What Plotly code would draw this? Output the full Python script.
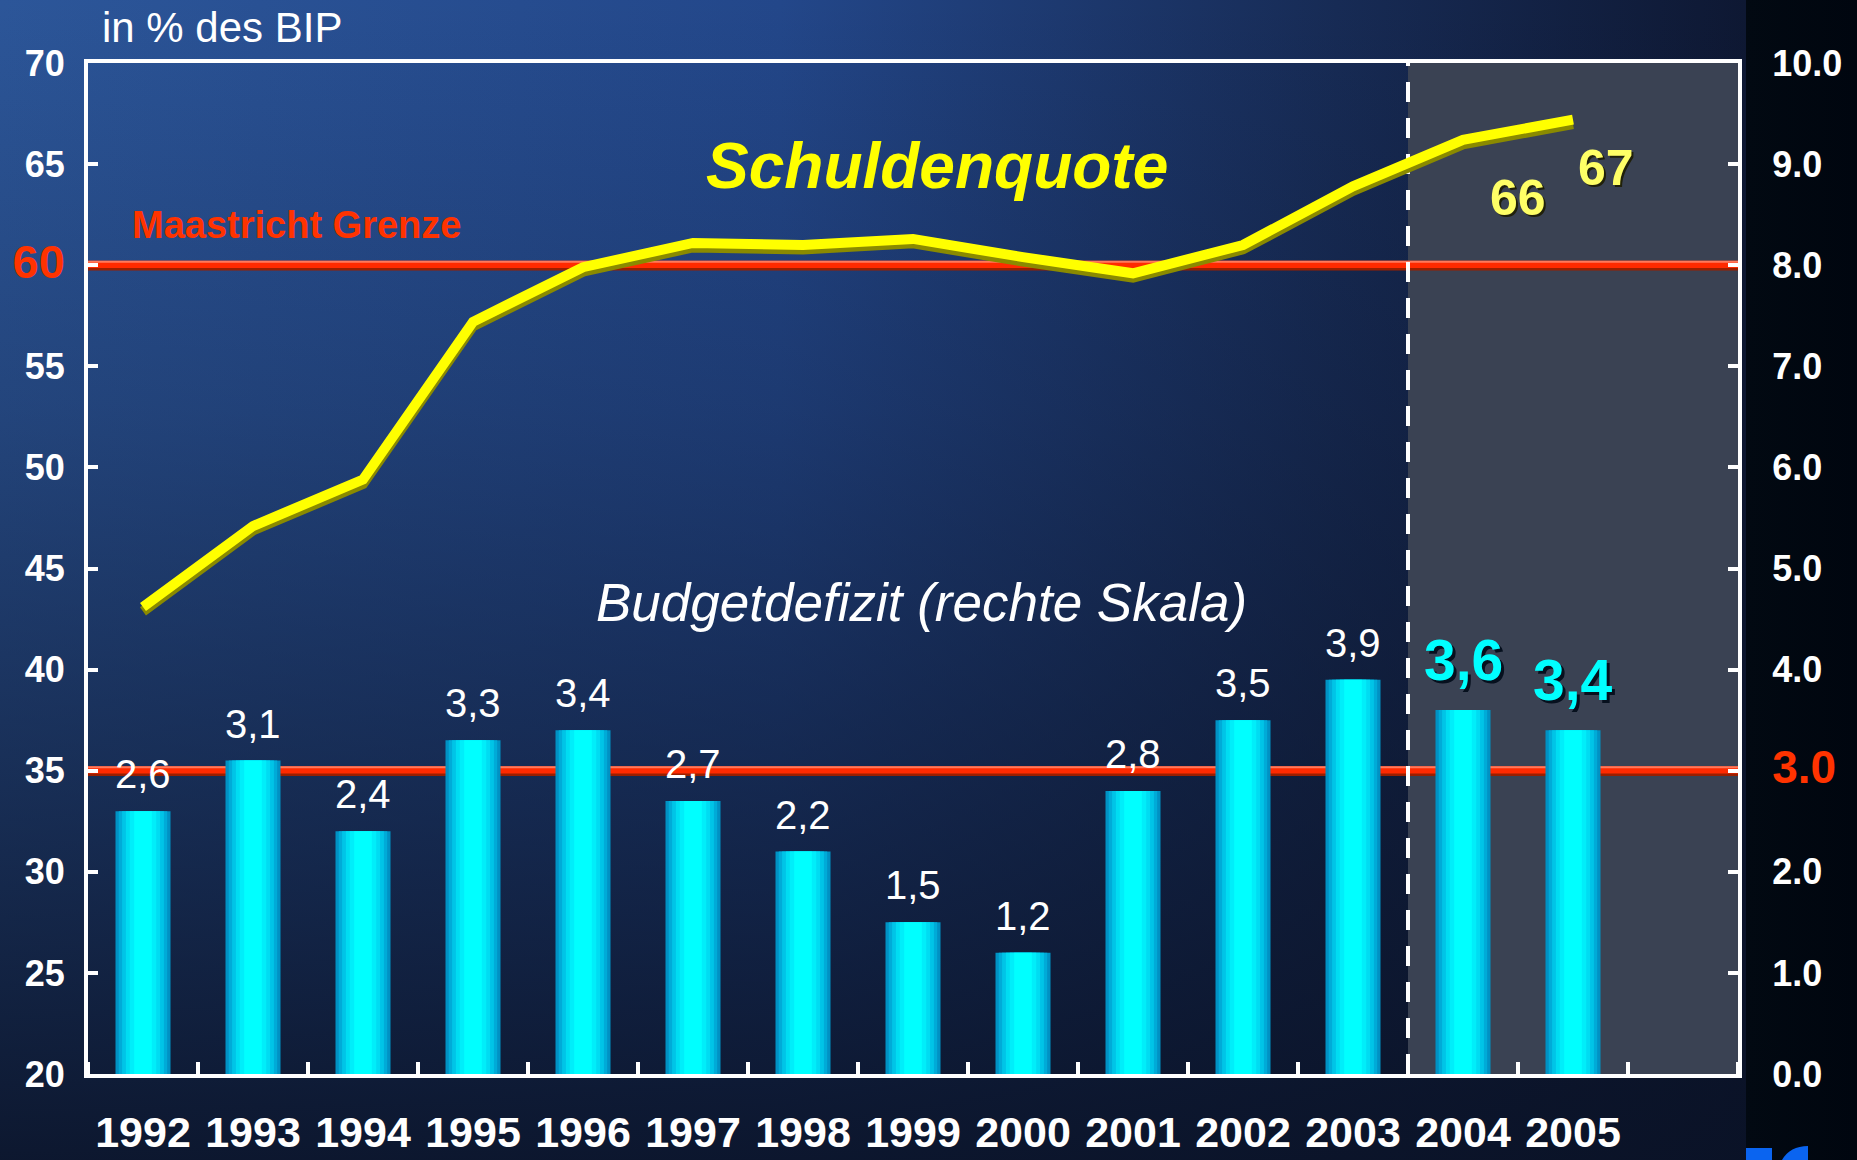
import base64
import plotly.graph_objects as go

# ---------------- data ----------------
years = [1992, 1993, 1994, 1995, 1996, 1997, 1998, 1999, 2000, 2001, 2002, 2003, 2004, 2005]
schuldenquote = [43.1, 47.1, 49.4, 57.2, 59.9, 61.1, 61.0, 61.3, 60.4, 59.6, 61.0, 63.9, 66.2, 67.2]
budgetdefizit = [2.6, 3.1, 2.4, 3.3, 3.4, 2.7, 2.2, 1.5, 1.2, 2.8, 3.5, 3.9, 3.6, 3.4]
forecast_years = [2004, 2005]
left_ticks = [20, 25, 30, 35, 40, 45, 50, 55, 60, 65, 70]
right_ticks = [0, 1, 2, 3, 4, 5, 6, 7, 8, 9, 10]
maastricht_debt = 60
maastricht_deficit = 3.0

FONT = 'Arial, "Liberation Sans", sans-serif'
W, H = 1857, 1160
ML, MR, MT, MB = 88, 119, 63, 86
PW, PH = W - ML - MR, H - MT - MB

# ---------------- background (gradient image) ----------------
svg = f"""<svg xmlns='http://www.w3.org/2000/svg' width='{W}' height='{H}' viewBox='0 0 {W} {H}' preserveAspectRatio='none'>
<defs>
<linearGradient id='h' x1='0' y1='0' x2='1' y2='0'>
<stop offset='0' stop-color='#2c5699'/>
<stop offset='0.42' stop-color='#23478a'/>
<stop offset='0.72' stop-color='#172b55'/>
<stop offset='0.94' stop-color='#0e1833'/>
<stop offset='0.94' stop-color='#020912'/>
<stop offset='1' stop-color='#00060f'/>
</linearGradient>
<linearGradient id='v' x1='0' y1='0' x2='0' y2='1'>
<stop offset='0' stop-color='#0a1226' stop-opacity='0'/>
<stop offset='0.35' stop-color='#0a1226' stop-opacity='0.25'/>
<stop offset='1' stop-color='#0a1226' stop-opacity='0.92'/>
</linearGradient>
</defs>
<rect width='{W}' height='{H}' fill='url(#h)'/>
<rect width='1746' height='{H}' fill='url(#v)'/>
<rect x='1746' y='1148' width='26' height='12' fill='#0a64f0'/>
<path d='M1782 1160 Q1790 1146 1808 1146 L1808 1160 Z' fill='#0a64f0'/>
</svg>"""
bg_src = "data:image/svg+xml;base64," + base64.b64encode(svg.encode()).decode()

fig = go.Figure()

# ---------------- bars (gradient via stacked overlay widths) ----------------
bar_layers = [(0.50, '#0092c4'), (0.44, '#00abd8'), (0.38, '#00c4e7'),
              (0.31, '#00dcf2'), (0.24, '#00eefa'), (0.16, '#00ffff')]
for wdt, col in bar_layers:
    fig.add_trace(go.Bar(x=years, y=budgetdefizit, width=wdt, marker=dict(color=col, line=dict(width=0)),
                         yaxis='y2', hoverinfo='skip', showlegend=False))

# ---------------- debt ratio line with shadow ----------------
fig.add_trace(go.Scatter(x=years, y=schuldenquote, mode='lines', yaxis='y3',
                         line=dict(color='#8a8a00', width=10), hoverinfo='skip', showlegend=False))
fig.add_trace(go.Scatter(x=years, y=schuldenquote, mode='lines', yaxis='y4',
                         line=dict(color='#ffff00', width=10), hoverinfo='skip', showlegend=False))

# ---------------- shapes ----------------
shapes = []
shapes.append(dict(type='rect', xref='x', yref='paper', x0=forecast_years[0] - 0.5, x1=forecast_years[-1] + 1.5,
                   y0=0, y1=1, fillcolor='#3a4253', line=dict(width=0), layer='below'))
for yr, yv in (('y', maastricht_debt), ('y2', maastricht_deficit)):
    shapes.append(dict(type='line', xref='paper', yref=yr, x0=0, x1=1, y0=yv, y1=yv,
                       line=dict(color='#ff2a00', width=9), layer='below'))
    shapes.append(dict(type='line', xref='paper', yref=yr, ysizemode='pixel', yanchor=yv, x0=0, x1=1,
                       y0=-4, y1=-4, line=dict(color='#9a1f00', width=2.5), layer='below'))
    shapes.append(dict(type='line', xref='paper', yref=yr, ysizemode='pixel', yanchor=yv, x0=0, x1=1,
                       y0=3.5, y1=3.5, line=dict(color='#ff7a5c', width=2), layer='below'))
shapes.append(dict(type='line', xref='x', yref='paper', x0=forecast_years[0] - 0.5, x1=forecast_years[0] - 0.5,
                   y0=0, y1=1, line=dict(color='white', width=4, dash='20px,16px'), layer='below'))

# ---------------- annotations ----------------
ann = []
def fmt(v):
    return f"{v:.1f}".replace('.', ',')

for yr, v in zip(years, budgetdefizit):
    if yr in forecast_years:
        ann.append(dict(x=yr, y=v, xref='x', yref='y2', text=f"<b>{fmt(v)}</b>", showarrow=False,
                        yshift=47, xshift=3, font=dict(family=FONT, size=57, color='#06101e')))
        ann.append(dict(x=yr, y=v, xref='x', yref='y2', text=f"<b>{fmt(v)}</b>", showarrow=False,
                        yshift=50, font=dict(family=FONT, size=57, color='#00ffff')))
    else:
        ann.append(dict(x=yr, y=v, xref='x', yref='y2', text=fmt(v), showarrow=False,
                        yshift=37, font=dict(family=FONT, size=40, color='white')))

for v, (lx, ly) in zip(schuldenquote[-2:], [(2004.5, 63.3), (2005.3, 64.8)]):
    ann.append(dict(x=lx, y=ly, xref='x', yref='y', text=f"<b>{round(v)}</b>", showarrow=False,
                    xshift=2, yshift=-2, font=dict(family=FONT, size=50, color='#20200a')))
    ann.append(dict(x=lx, y=ly, xref='x', yref='y', text=f"<b>{round(v)}</b>", showarrow=False,
                    font=dict(family=FONT, size=50, color='#ffff66')))

ann.append(dict(x=1999.22, y=64.9, xref='x', yref='y', text='<b><i>Schuldenquote</i></b>', showarrow=False,
                font=dict(family=FONT, size=64, color='#ffff00')))
ann.append(dict(x=1991.88, y=62.0, xref='x', yref='y', text='<b>Maastricht Grenze</b>', showarrow=False,
                xanchor='left', font=dict(family=FONT, size=38, color='#ff3300')))
ann.append(dict(x=1999.08, y=43.3, xref='x', yref='y', text='<i>Budgetdefizit (rechte Skala)</i>', showarrow=False,
                font=dict(family=FONT, size=53, color='white')))
ann.append(dict(x=(100 - ML) / PW, y=1 + (MT - 27) / PH, xref='paper', yref='paper', text='in % des BIP',
                showarrow=False, xanchor='left', yanchor='middle',
                font=dict(family=FONT, size=42, color='white')))

# ---------------- tick labels ----------------
left_text = [f'<span style="color:#ff3300;font-size:47px">{t}</span>' if t == maastricht_debt else str(t)
             for t in left_ticks]
right_text = [f'<span style="color:#ff3300;font-size:46px">{t:.1f}</span>' if t == maastricht_deficit else f"{t:.1f}"
              for t in right_ticks]

axis_common = dict(showgrid=False, zeroline=False, showline=True, linecolor='white', linewidth=4,
                   automargin=False)

fig.update_layout(
    width=W, height=H,
    margin=dict(l=ML, r=MR, t=MT, b=MB),
    paper_bgcolor='#0d1a36', plot_bgcolor='rgba(0,0,0,0)',
    barmode='overlay', hovermode=False, showlegend=False,
    images=[dict(source=bg_src, xref='paper', yref='paper', x=-ML / PW, y=1 + MT / PH,
                 sizex=W / PW, sizey=H / PH, xanchor='left', yanchor='top', sizing='stretch', layer='below')],
    xaxis=dict(**axis_common, mirror=True, range=[years[0] - 0.5, years[-1] + 1.5],
               tickmode='array', tickvals=years, ticktext=[f"<b>{y}</b>" for y in years], ticks='',
               ticklabelstandoff=17,
               tickfont=dict(family=FONT, size=43, color='white'),
               minor=dict(tickmode='linear', tick0=years[0] - 0.5, dtick=1, ticks='inside', ticklen=12,
                          tickwidth=4, tickcolor='white', showgrid=False)),
    yaxis=dict(**axis_common, range=[left_ticks[0], left_ticks[-1]], tickmode='array', tickvals=left_ticks,
               ticktext=[f"<b>{t}</b>" for t in left_text], ticks='inside', ticklen=10, tickwidth=4,
               tickcolor='white', ticklabelstandoff=12,
               tickfont=dict(family=FONT, size=36, color='white')),
    yaxis2=dict(**axis_common, overlaying='y', side='right', range=[right_ticks[0], right_ticks[-1]],
                tickmode='array', tickvals=right_ticks, ticktext=[f"<b>{t}</b>" for t in right_text],
                ticks='inside', ticklen=10, tickwidth=4, tickcolor='white', ticklabelstandoff=23,
                tickfont=dict(family=FONT, size=36, color='white')),
    yaxis3=dict(overlaying='y', visible=False, range=[left_ticks[0] + 0.22, left_ticks[-1] + 0.22]),
    yaxis4=dict(overlaying='y', visible=False, range=[left_ticks[0], left_ticks[-1]]),
    shapes=shapes,
    annotations=ann,
)

fig.write_html("out.html", config={'displayModeBar': False},
               post_script="document.body.style.margin='0';document.body.style.padding='0';"
                           "document.body.style.overflow='hidden';")
